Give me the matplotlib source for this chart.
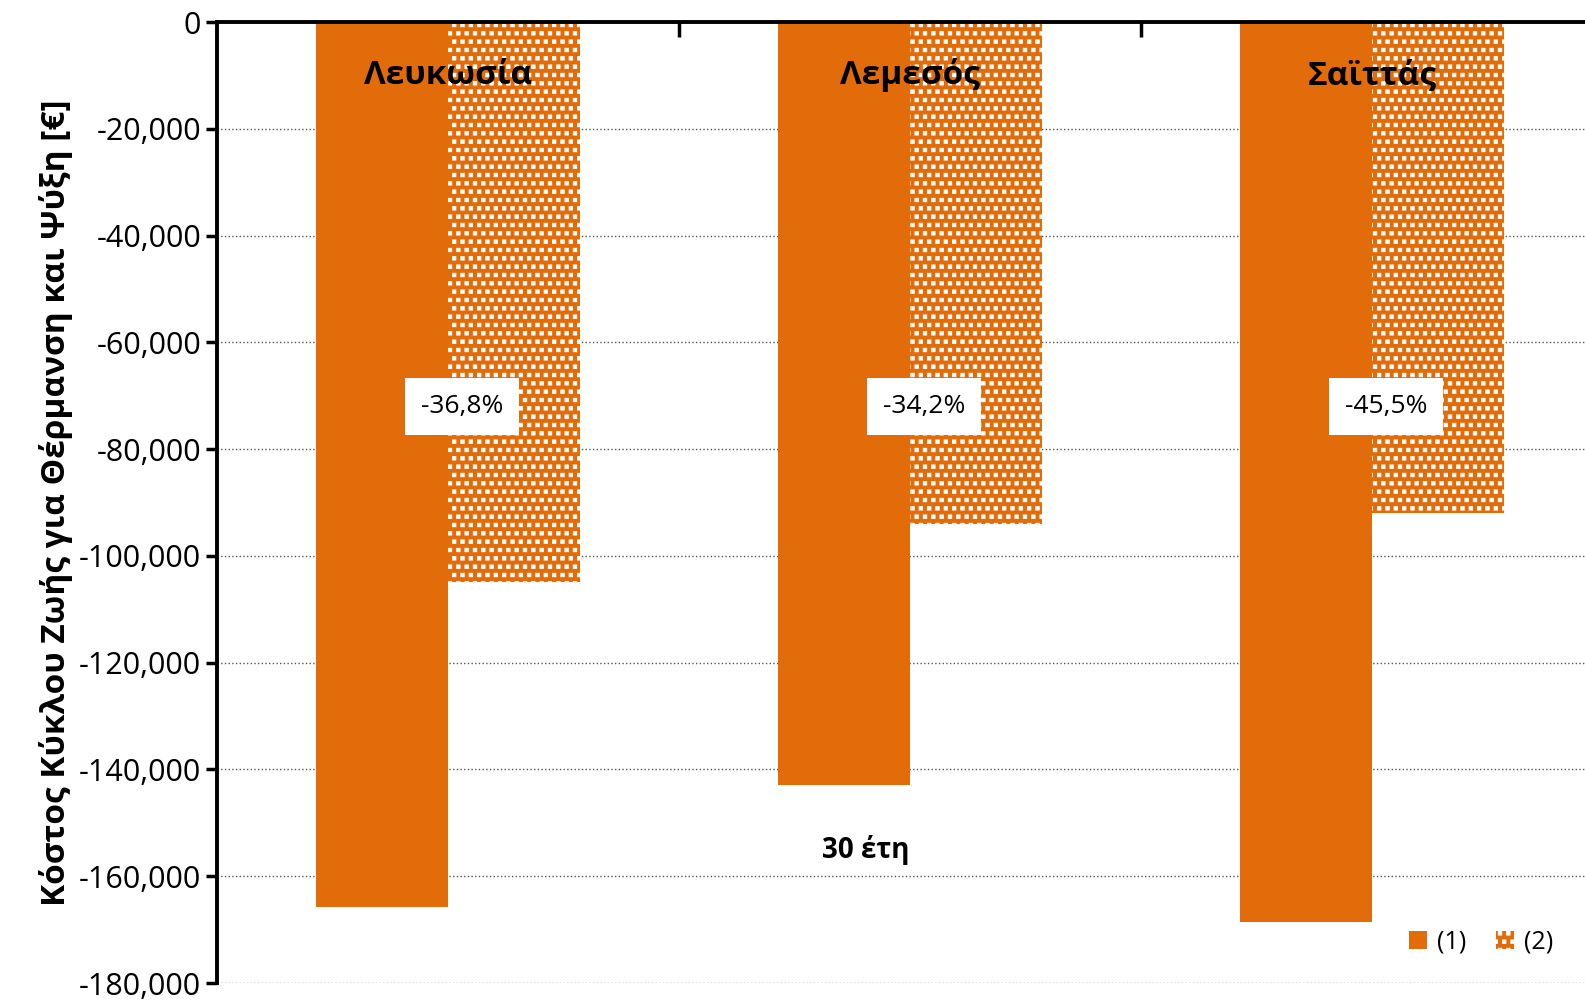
import matplotlib.pyplot as plt
import matplotlib.hatch as mhatch
from matplotlib.path import Path
from matplotlib.ticker import FuncFormatter

plt.rcParams['font.family'] = ['Open Sans', 'DejaVu Sans']
plt.rcParams['hatch.linewidth'] = 0.6


class SquareDots(mhatch.Shapes):
    """Staggered small filled squares, hatch character 's'."""
    filled = True
    size = 0.42

    def __init__(self, hatch, density):
        self.num_rows = hatch.count('s') * density
        path = Path.unit_rectangle()
        self.shape_vertices = path.vertices - 0.5
        self.shape_codes = path.codes
        super().__init__(hatch, density)


mhatch._hatch_types.append(SquareDots)

cities = ['Λευκωσία', 'Λεμεσός', 'Σαϊττάς']
cost_1 = [-165800, -143000, -168600]
cost_2 = [-104800, -94100, -91900]
series_names = ['(1)', '(2)']
period_label = '30 έτη'
ylabel = 'Κόστος Κύκλου Ζωής για Θέρμανση και Ψύξη [€]'

orange = '#E36C0A'

fig = plt.figure(figsize=(15.85, 10), dpi=100)
ax = fig.add_axes([217 / 1585, 0.017, 1 - 217 / 1585, 0.961])

x = list(range(len(cities)))
w = 0.285
ax.bar([i - w / 2 for i in x], cost_1, w, color=orange, linewidth=0, label=series_names[0], zorder=2)
ax.bar([i + w / 2 for i in x], cost_2, w, facecolor=orange, edgecolor='white',
       hatch='ss', linewidth=0, label=series_names[1], zorder=2)

# cost reduction of case (2) relative to case (1)
for i in x:
    pct = (abs(cost_2[i]) - abs(cost_1[i])) / abs(cost_1[i]) * 100
    txt = f'{pct:.1f}%'.replace('.', ',')
    ax.text(i + 0.03, -72000, txt, ha='center', va='center', fontsize=19, zorder=4,
            bbox=dict(boxstyle='square,pad=0.6', facecolor='white', edgecolor='none'))
    ax.text(i, -10000, cities[i], ha='center', va='center', fontsize=24,
            fontweight='bold', zorder=4)

ax.text(0.905, -155000, period_label, ha='center', va='center', fontsize=20, fontweight='bold')

ax.set_ylim(-180000, 0)
ax.set_xlim(-0.5, -0.5 + 1368 / 462)
ax.set_yticks(range(-180000, 1, 20000))
ax.yaxis.set_major_formatter(FuncFormatter(lambda v, p: f'{int(v):,}'))
ax.tick_params(axis='y', labelsize=22, width=2.5, length=8, direction='out')

# category boundaries marked on the zero line
ax.xaxis.tick_top()
ax.set_xticks([0.5, 1.5])
ax.set_xticklabels([])
ax.tick_params(axis='x', width=2.5, length=11, direction='in')

ax.grid(axis='y', linestyle=':', color='#555555', linewidth=1, zorder=0)
ax.set_axisbelow(True)
for s in ['right', 'bottom']:
    ax.spines[s].set_visible(False)
for s in ['left', 'top']:
    ax.spines[s].set_linewidth(2.8)

ax.set_ylabel(ylabel, fontsize=24, fontweight='bold', labelpad=4)

ax.legend(loc='lower right', bbox_to_anchor=(0.993, 0.006), ncol=2, frameon=False,
          fontsize=18, handlelength=0.7, handleheight=0.7, columnspacing=1.2,
          handletextpad=0.4)

plt.savefig('out.png', dpi=100)
